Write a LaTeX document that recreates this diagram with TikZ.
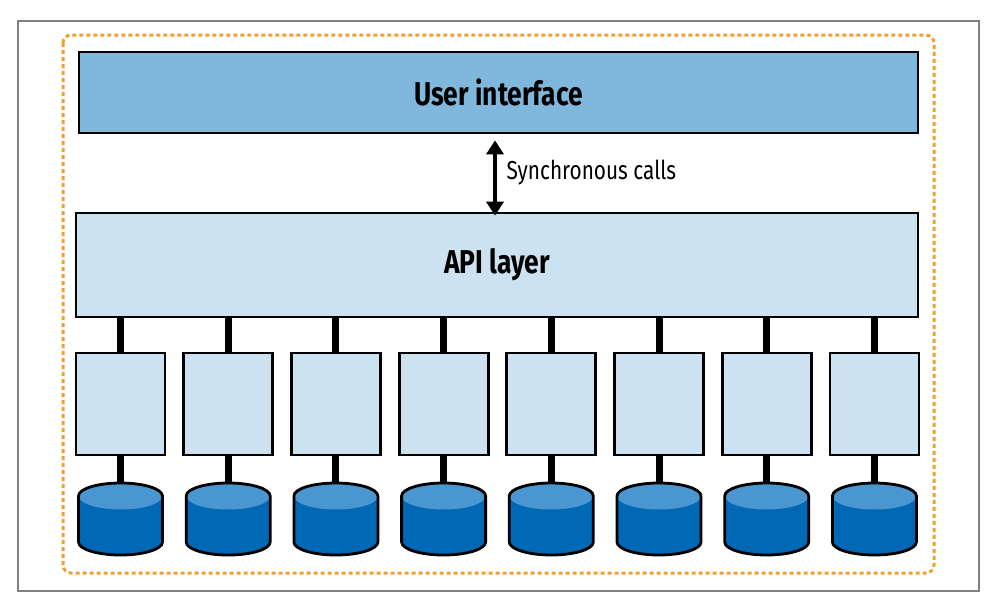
\documentclass[tikz,border=0pt]{standalone}
\usepackage{fontspec}
\setmainfont{Fira Sans}[FakeStretch=0.8]
\usetikzlibrary{arrows.meta}
\definecolor{uiblue}{HTML}{80B7DC}
\definecolor{apiblue}{HTML}{CCE2F0}
\definecolor{dbdark}{HTML}{0068B4}
\definecolor{dblight}{HTML}{4A96D0}
\definecolor{edgeorange}{HTML}{F0A030}
\begin{document}
\begin{tikzpicture}[x=1pt,y=-1pt,
  layer/.style={draw=black,line width=2.8pt,inner sep=0pt,font=\fontsize{33}{35}\selectfont\bfseries},
  svcbox/.style={draw=black,line width=2.8pt,fill=apiblue,minimum width=89pt,minimum height=102pt},
  link/.style={line width=7pt},
  callarrow/.style={{Triangle[width=17pt,length=14pt]}-{Triangle[width=17pt,length=14pt]},line width=4pt}]
\useasboundingbox (0,0) rectangle (996,606);
\draw[gray,line width=1.5pt] (18,21) rectangle (979,591);
\draw[edgeorange,line width=3pt,dash pattern=on 4pt off 3pt,rounded corners=8pt] (63,35) rectangle (934,573);
\node[layer,fill=uiblue,minimum width=839pt,minimum height=81pt] (ui) at (498.5,92.5) {User interface};
\node[layer,fill=apiblue,minimum width=842pt,minimum height=104pt] (api) at (497,265) {API layer};
\coordinate (callx) at (495,0);
\draw[callarrow] (ui.south -| callx)++(0,6) -- ([yshift=-4pt]api.north -| callx);
\node[anchor=west,font=\fontsize{26}{28}\selectfont] (sync) at (503,173) {Synchronous calls};
\foreach \i in {1,...,8}{
  \pgfmathsetmacro\cx{120.5+107.7*(\i-1)}
  \node[svcbox] (svc\i) at (\cx,404) {};
  \coordinate (db\i) at (\cx,483);
  \fill[dbdark] (\cx-42,496) -- (\cx-42,542) arc[start angle=180,end angle=0,x radius=42,y radius=13] -- (\cx+42,496) -- cycle;
  \fill[dblight] (\cx,496) ellipse[x radius=42,y radius=13.5];
  \draw[line width=2.8pt] (\cx-42,496) -- (\cx-42,542) arc[start angle=180,end angle=0,x radius=42,y radius=13] -- (\cx+42,496) arc[start angle=0,end angle=-180,x radius=42,y radius=13] -- cycle;
  \draw[link] (api.south -| svc\i.north) -- (svc\i.north);
  \draw[link] (svc\i.south) -- (db\i);
}
\end{tikzpicture}
\end{document}
